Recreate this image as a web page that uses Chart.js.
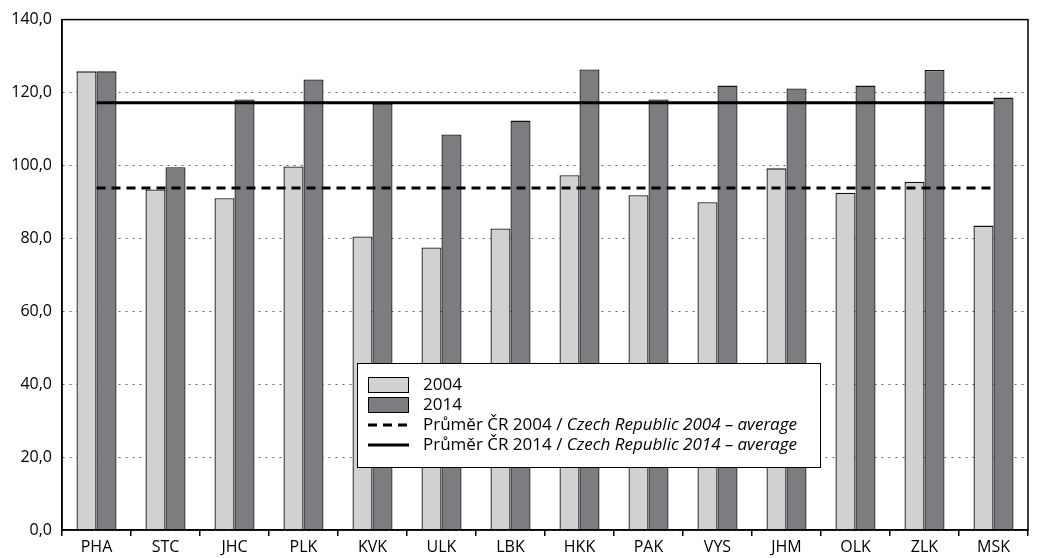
<!DOCTYPE html>
<html>
<head>
<meta charset="utf-8">
<script src="https://cdn.jsdelivr.net/npm/chart.js@4"></script>
<style>
  html, body { margin: 0; padding: 0; background: #fff; }
  #wrap { width: 1042px; height: 558px; position: relative; }
</style>
</head>
<body>
<div id="wrap"><canvas id="chart" width="1042" height="558"></canvas></div>
<script>
// regions (kraje)
const categories = ['PHA', 'STC', 'JHC', 'PLK', 'KVK', 'ULK', 'LBK', 'HKK', 'PAK', 'VYS', 'JHM', 'OLK', 'ZLK', 'MSK'];
const values2004 = [125.8, 93.4, 91.0, 99.7, 80.5, 77.5, 82.7, 97.3, 91.8, 89.9, 99.2, 92.5, 95.5, 83.5];
const values2014 = [125.8, 99.5, 118.1, 123.6, 117.0, 108.5, 112.3, 126.3, 118.1, 121.9, 121.1, 121.9, 126.2, 118.6];
const avg2004 = 93.8;
const avg2014 = 117.2;
const yTicks = [0, 20, 40, 60, 80, 100, 120, 140];

const legendItems = [
  { kind: 'box', color: '#d1d1d3', text: [['2004', false]] },
  { kind: 'box', color: '#7c7d80', text: [['2014', false]] },
  { kind: 'dash', text: [['Průměr ČR 2004 / ', false], ['Czech Republic 2004 – average', true]] },
  { kind: 'solid', text: [['Průměr ČR 2014 / ', false], ['Czech Republic 2014 – average', true]] }
];

const FONT = '"Open Sans", "Noto Sans", sans-serif';

// frame round the plot area + the legend box
const framePlugin = {
  id: 'frame',
  afterDraw(chart) {
    const { ctx, chartArea: a } = chart;
    ctx.save();
    ctx.strokeStyle = '#000';
    ctx.lineWidth = 1.5;
    ctx.strokeRect(a.left, a.top, a.right - a.left, a.bottom - a.top);

    // legend
    const lx = 357, ly = 363, lw = 463, lh = 104;
    ctx.fillStyle = '#fff';
    ctx.fillRect(lx, ly, lw, lh);
    ctx.lineWidth = 1;
    ctx.strokeStyle = '#000';
    ctx.strokeRect(lx + 0.5, ly + 0.5, lw, lh);
    legendItems.forEach((it, i) => {
      const cy = 385 + i * 20;
      if (it.kind === 'box') {
        ctx.fillStyle = it.color;
        ctx.fillRect(368.5, cy - 7.5, 40, 15);
        ctx.strokeRect(368.5, cy - 7.5, 40, 15);
      } else {
        ctx.beginPath();
        ctx.lineWidth = 3;
        ctx.setLineDash(it.kind === 'dash' ? [9, 6] : []);
        ctx.moveTo(368, cy);
        ctx.lineTo(409, cy);
        ctx.stroke();
        ctx.setLineDash([]);
        ctx.lineWidth = 1;
      }
      let tx = 423;
      ctx.fillStyle = '#000';
      ctx.textBaseline = 'middle';
      it.text.forEach(([t, italic]) => {
        ctx.font = (italic ? 'italic ' : '') + '17px ' + FONT;
        ctx.fillText(t, tx, cy);
        tx += ctx.measureText(t).width;
      });
    });
    ctx.restore();
  }
};

new Chart(document.getElementById('chart'), {
  data: {
    labels: categories,
    datasets: [
      {
        type: 'line', label: 'Průměr ČR 2004', order: 1,
        data: [{ x: categories[0], y: avg2004 }, { x: categories[categories.length - 1], y: avg2004 }],
        borderColor: '#000', borderWidth: 3, borderDash: [9, 6], pointRadius: 0
      },
      {
        type: 'line', label: 'Průměr ČR 2014', order: 1,
        data: [{ x: categories[0], y: avg2014 }, { x: categories[categories.length - 1], y: avg2014 }],
        borderColor: '#000', borderWidth: 3, pointRadius: 0
      },
      {
        type: 'bar', label: '2004', order: 2, data: values2004,
        backgroundColor: '#d1d1d3', borderColor: '#111', borderWidth: 1.3,
        barPercentage: 1, categoryPercentage: 0.58
      },
      {
        type: 'bar', label: '2014', order: 2, data: values2014,
        backgroundColor: '#7c7d80', borderColor: '#111', borderWidth: 1.3,
        barPercentage: 1, categoryPercentage: 0.58
      }
    ]
  },
  options: {
    responsive: false,
    animation: false,
    layout: { padding: { top: 19, right: 14, left: 0, bottom: 0 } },
    plugins: { legend: { display: false }, tooltip: { enabled: false } },
    scales: {
      x: {
        type: 'category',
        offset: true,
        grid: { offset: true, drawOnChartArea: false, drawTicks: true, tickLength: 6, color: '#000', lineWidth: 1.5 },
        border: { display: true, color: '#000', width: 1.5 },
        ticks: { color: '#000', font: { family: FONT, size: 16 }, padding: 2, maxRotation: 0 },
        afterFit(s) { s.height = 28; }
      },
      y: {
        min: 0, max: 140,
        afterBuildTicks(s) { s.ticks = yTicks.map(v => ({ value: v })); },
        grid: { color: '#666', lineWidth: 1, drawTicks: false },
        border: { display: true, color: '#000', width: 1.5, dash: [2, 5] },
        ticks: {
          color: '#000', font: { family: FONT, size: 16 }, padding: 10,
          callback: v => v.toFixed(1).replace('.', ',')
        },
        afterFit(s) { s.width = 62; }
      }
    }
  },
  plugins: [framePlugin]
});
</script>
</body>
</html>
